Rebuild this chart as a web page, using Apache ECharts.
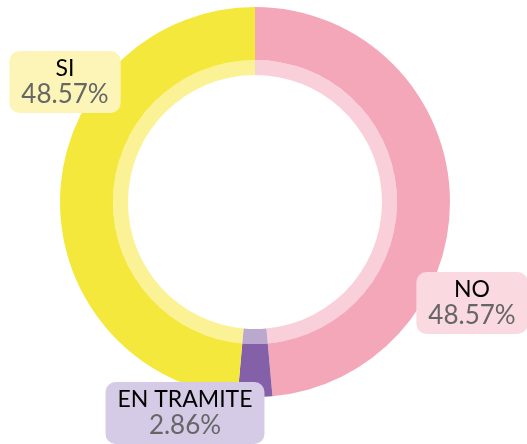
<!DOCTYPE html>
<html>
<head>
<meta charset="utf-8">
<title>Estado</title>
<script src="https://cdn.jsdelivr.net/npm/echarts@6/dist/echarts.min.js"></script>
<style>
  html, body { margin: 0; padding: 0; background: #fff; }
  #chart { width: 527px; height: 444px; }
</style>
</head>
<body>
<div id="chart"></div>
<script>
// datos
const categorias = ["NO", "EN TRAMITE", "SI"];
const valores = [17, 1, 17];
const colores = ["#f4a7b9", "#8360a8", "#f5e83d"];
const coloresCaja = ["#fbd9e0", "#d5cbe6", "#fdf4b8"];

// posicion de cada etiqueta respecto al centro del anillo
const centro = [255, 202];
const desplazamientos = [[217, 101], [-70, 211], [-190, -120]];

const chart = echarts.init(document.getElementById("chart"));

const datos = categorias.map((c, i) => ({
  name: c,
  value: valores[i],
  itemStyle: { color: colores[i] },
  label: { backgroundColor: coloresCaja[i] },
}));

chart.setOption({
  animation: false,
  series: [
    {
      // anillo interior claro
      type: "pie",
      center: centro,
      radius: [127, 142],
      startAngle: 90,
      silent: true,
      label: { show: false },
      labelLine: { show: false },
      itemStyle: { opacity: 0.55 },
      data: datos.map((d) => ({ name: d.name, value: d.value, itemStyle: d.itemStyle })),
    },
    {
      type: "pie",
      center: centro,
      radius: [142, 195],
      startAngle: 90,
      silent: true,
      labelLine: { show: false },
      label: {
        show: true,
        position: "inside",
        formatter: "{n|{b}}\n{v|{d}%}",
        borderRadius: 10,
        padding: [5, 12],
        rich: {
          n: { fontFamily: "Lato", fontSize: 23, lineHeight: 26, color: "#000", align: "center" },
          v: { fontFamily: "Lato", fontSize: 26, lineHeight: 26, color: "#666", align: "center" },
        },
      },
      labelLayout: function (params) {
        const d = desplazamientos[params.dataIndex];
        return {
          x: centro[0] + d[0],
          y: centro[1] + d[1],
          align: "center",
          verticalAlign: "middle",
        };
      },
      data: datos,
    },
  ],
});
</script>
</body>
</html>
